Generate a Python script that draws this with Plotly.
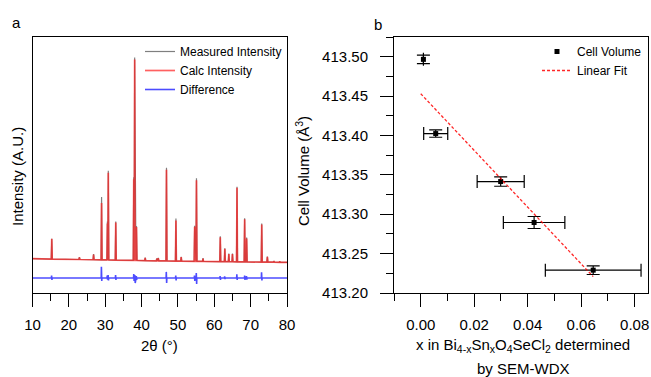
import numpy as np
import plotly.graph_objects as go

# ---------------- Panel a data (XRD pattern) ----------------
peak_pos = [15.3, 22.9, 26.8, 29.0, 30.6, 30.85, 32.9, 37.85, 38.1, 38.6, 41.0, 44.2, 44.6,
            46.85, 49.45, 50.9, 54.6, 55.1, 56.9, 61.65, 62.9, 64.0, 65.0, 66.25, 68.35,
            68.9, 73.05, 74.6, 76.4, 78.0]
meas_height = [0.10, 0.012, 0.028, 0.31, 0.19, 0.44, 0.19, 0.41, 1.0, 0.17, 0.015, 0.012, 0.015,
               0.46, 0.21, 0.022, 0.175, 0.41, 0.016, 0.125, 0.066, 0.04, 0.04, 0.37, 0.215,
               0.12, 0.19, 0.028, 0.006, 0.005]
calc_height = [0.10, 0.010, 0.026, 0.28, 0.18, 0.43, 0.185, 0.40, 0.99, 0.165, 0.013, 0.010, 0.013,
               0.45, 0.20, 0.020, 0.17, 0.40, 0.014, 0.12, 0.064, 0.038, 0.038, 0.365, 0.21,
               0.115, 0.185, 0.026, 0.005, 0.004]
bg_x = [10, 30, 50, 80]
bg_y = [0.006, 0.0, -0.006, -0.012]

diff_offset = -0.089
diff_pos = [15.3, 29.0, 30.6, 30.85, 32.9, 37.9, 38.2, 38.6, 46.85, 49.45, 54.6, 55.1,
            61.65, 62.9, 66.25, 68.4, 68.9, 73.05]
diff_up = [0.012, 0.055, 0.012, 0.015, 0.015, 0.02, 0.015, 0.01, 0.03, 0.012, 0.012, 0.025,
           0.01, 0.008, 0.018, 0.012, 0.01, 0.028]
diff_down = [0.01, 0.015, 0.008, 0.012, 0.01, 0.015, 0.025, 0.01, 0.025, 0.012, 0.015, 0.03,
             0.01, 0.006, 0.01, 0.01, 0.008, 0.012]

# ---------------- Panel b data ----------------
x_sn = [0.001, 0.0056, 0.0299, 0.0424, 0.0645]
x_err = [None, 0.0045, 0.0088, 0.0115, 0.0179]
cell_vol = [413.4966, 413.4024, 413.3415, 413.2895, 413.229]
vol_err = [0.0055, 0.0047, 0.006, 0.0076, 0.0055]
fit_intercept = 413.453
fit_slope = -3.6
fit_range = [0.0, 0.0645]

FONT = "Liberation Sans, Arial, sans-serif"


def stick_trace(pos, heights, w):
    xs = [bg_x[0]]
    ys = [float(np.interp(bg_x[0], bg_x, bg_y))]
    for p, h in zip(pos, heights):
        b = float(np.interp(p, bg_x, bg_y))
        xs += [p - w, p, p + w]
        ys += [b, b + h, b]
    xs.append(bg_x[-1])
    ys.append(float(np.interp(bg_x[-1], bg_x, bg_y)))
    return xs, ys


fig = go.Figure()

mx, my = stick_trace(peak_pos, meas_height, 0.15)
fig.add_trace(go.Scatter(x=mx, y=my, mode="lines", name="Measured Intensity",
                         line=dict(color="rgba(0,0,0,0.5)", width=1.2),
                         xaxis="x", yaxis="y", legend="legend"))
cx, cy = stick_trace(peak_pos, calc_height, 0.12)
fig.add_trace(go.Scatter(x=cx, y=cy, mode="lines", name="Calc Intensity",
                         line=dict(color="rgba(255,30,30,0.7)", width=1.7),
                         xaxis="x", yaxis="y", legend="legend"))

dx = [bg_x[0]]
dy = [diff_offset]
for p, u, d in zip(diff_pos, diff_up, diff_down):
    dx += [p - 0.1, p - 0.05, p + 0.05, p + 0.1]
    dy += [diff_offset, diff_offset + u, diff_offset - d, diff_offset]
dx.append(bg_x[-1])
dy.append(diff_offset)
fig.add_trace(go.Scatter(x=dx, y=dy, mode="lines", name="Difference",
                         line=dict(color="rgba(0,0,255,0.7)", width=1.6),
                         xaxis="x", yaxis="y", legend="legend"))

fig.add_trace(go.Scatter(x=x_sn, y=cell_vol, mode="markers", name="Cell Volume",
                         marker=dict(symbol="square", size=5, color="black"),
                         error_y=dict(type="data", array=vol_err, color="black", thickness=1.2, width=6.5),
                         error_x=dict(type="data", array=x_err, color="black", thickness=1.2, width=6.5),
                         xaxis="x2", yaxis="y2", legend="legend2"))
fx = fit_range
fy = [fit_intercept + fit_slope * v for v in fx]
fig.add_trace(go.Scatter(x=fx, y=fy, mode="lines", name="Linear Fit",
                         line=dict(color="rgba(255,0,0,0.85)", width=1.3, dash="3px,2px"),
                         xaxis="x2", yaxis="y2", legend="legend2"))

W, H = 651, 377
def px_x(v):
    return v / W
def px_y(v):
    return 1 - v / H

ydom = [px_y(293), px_y(37)]
axis_common = dict(showline=True, linecolor="black", linewidth=1, mirror=True,
                   showgrid=False, zeroline=False, ticks="outside", ticklen=13,
                   tickcolor="black", tickfont=dict(size=15, family=FONT, color="black"),
                   automargin=False)

fig.update_layout(
    width=W, height=H, margin=dict(l=0, r=0, t=0, b=0, autoexpand=False),
    plot_bgcolor="white", paper_bgcolor="white",
    font=dict(family=FONT, size=15, color="black"),
    xaxis=dict(domain=[px_x(32.5), px_x(287)], range=[10, 80], tick0=10, dtick=10,
               anchor="y", ticklabelstandoff=5,
               minor=dict(ticks="outside", ticklen=7, dtick=5, tick0=5, tickcolor="black"),
               **axis_common),
    yaxis=dict(domain=ydom, range=[-0.163, 1.099], anchor="x",
               showline=True, linecolor="black", linewidth=1, mirror=True,
               showgrid=False, zeroline=False, showticklabels=False, ticks=""),
    xaxis2=dict(domain=[px_x(394), px_x(648)], range=[-0.01, 0.085], tick0=0, dtick=0.02,
                tickformat=".2f", anchor="y2", ticklabelstandoff=5,
                minor=dict(ticks="outside", ticklen=7, dtick=0.01, tick0=0, tickcolor="black"),
                **axis_common),
    yaxis2=dict(domain=ydom, range=[413.2, 413.525], tick0=413.2, dtick=0.05,
                tickformat=".2f", anchor="x2", ticklabelstandoff=9,
                minor=dict(ticks="outside", ticklen=7, dtick=0.025, tick0=413.2, tickcolor="black"),
                **axis_common),
    legend=dict(x=px_x(140), y=px_y(37), xanchor="left", yanchor="top",
                bgcolor="rgba(0,0,0,0)", font=dict(size=12, family=FONT),
                itemwidth=30, tracegroupgap=0),
    legend2=dict(x=px_x(537), y=px_y(37), xanchor="left", yanchor="top",
                 bgcolor="rgba(0,0,0,0)", font=dict(size=12, family=FONT),
                 itemwidth=30, tracegroupgap=0),
    showlegend=True,
)

def ann(text, x, y, size=15, angle=0):
    fig.add_annotation(text=text, x=px_x(x), y=px_y(y), xref="paper", yref="paper",
                       showarrow=False, textangle=angle, xanchor="center", yanchor="middle",
                       font=dict(size=size, family=FONT, color="black"))

ann("a", 16, 23)
ann("b", 378, 24)
ann("Intensity (A.U.)", 18, 177, angle=-90)
ann("2θ (°)", 159, 345)
ann("Cell Volume (Å<sup>3</sup>)", 302, 171, angle=-90)
ann("x in Bi<sub>4-x</sub>Sn<sub>x</sub>O<sub>4</sub>SeCl<sub>2</sub> determined", 523, 345)
ann("by SEM-WDX", 523, 368)

fig.write_html("out.html", config={"displayModeBar": False},
               post_script="document.body.style.margin='0px';document.body.style.overflow='hidden';")
